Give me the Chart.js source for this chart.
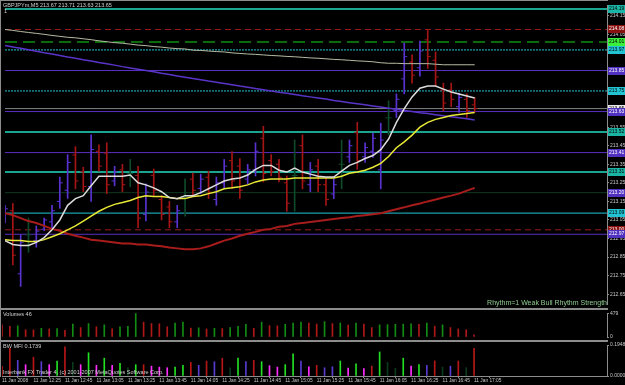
<!DOCTYPE html>
<html lang="en">
<head>
<meta charset="UTF-8"/>
<title>GBPJPYm,M5</title>
<script src="https://cdn.jsdelivr.net/npm/chart.js"></script>
<style>
  body { margin:0; background:#000; width:625px; height:385px; overflow:hidden; position:relative; font-family:"Liberation Sans", Arial, sans-serif; }
  canvas { position:absolute; left:0; }
  #main { top:0; }
  #vol { top:309px; }
  #mfi { top:341px; }
  .sep { position:absolute; background:#8c8c8c; }
  .txt { position:absolute; font-size:5.5px; line-height:6px; color:#d0d0d0; white-space:nowrap; }
</style>
</head>
<body>
  <canvas id="main" width="625" height="309"></canvas>
  <canvas id="vol" width="625" height="32"></canvas>
  <canvas id="mfi" width="625" height="44"></canvas>

  <!-- window frame / panel separators -->
  <div class="sep" style="left:0;top:0;width:608px;height:1px"></div>
  <div class="sep" style="left:0;top:0;width:1px;height:377px"></div>
  <div class="sep" style="left:0;top:308px;width:608px;height:2px"></div>
  <div class="sep" style="left:0;top:340px;width:608px;height:2px"></div>

  <div class="txt" id="header" style="left:3px;top:2px"></div>
  <div class="txt" style="left:4px;top:8px">1</div>
  <div class="txt" style="right:18px;top:299px;font-size:7px;line-height:8px;color:#8fca8f">Rhythm=1 Weak Bull Rhythm Strength</div>
  <div class="txt" id="volLabel" style="left:3px;top:311px"></div>
  <div class="txt" style="left:3px;top:343px">BW MFI 0.1739</div>
  <div class="txt" style="left:3px;top:369px">Interbank FX Trader 4, (c) 2001-2007 MetaQuotes Software Corp.</div>

<script>
// 5-minute bars, 11 Jan 2008
const times = ["12:05","12:10","12:15","12:20","12:25","12:30","12:35","12:40","12:45","12:50",
  "12:55","13:00","13:05","13:10","13:15","13:20","13:25","13:30","13:35","13:40",
  "13:45","13:50","13:55","14:00","14:05","14:10","14:15","14:20","14:25","14:30",
  "14:35","14:40","14:45","14:50","14:55","15:00","15:05","15:10","15:15","15:20",
  "15:25","15:30","15:35","15:40","15:45","15:50","15:55","16:00","16:05","16:10",
  "16:15","16:20","16:25","16:30","16:35","16:40","16:45","16:50","16:55","17:00","17:05"];

const barOpen = [213.05,213.10,212.76,212.97,212.94,213.00,213.04,213.15,213.21,213.40,
  213.31,213.23,213.42,213.41,213.26,213.32,213.30,213.29,213.08,213.29,
  213.16,213.12,213.04,213.17,213.27,213.22,213.28,213.16,213.25,213.37,
  213.34,213.27,213.32,213.49,213.37,213.35,213.25,213.29,213.45,213.24,
  213.34,213.24,213.19,213.35,213.39,213.52,213.39,213.42,213.32,213.60,
  213.64,213.81,213.90,213.87,214.02,213.91,213.75,213.75,213.66,213.70,213.67];
const barHigh = [213.129,213.139,212.971,213.060,213.018,213.060,213.129,213.281,213.402,213.445,
  213.334,213.508,213.455,213.466,213.339,213.350,213.376,213.339,213.245,213.324,
  213.181,213.150,213.129,213.271,213.302,213.297,213.313,213.281,213.376,213.418,
  213.381,213.350,213.466,213.555,213.402,213.376,213.287,213.481,213.508,213.360,
  213.376,213.271,213.271,213.481,213.481,213.576,213.466,213.518,213.571,213.692,
  213.729,214.002,213.939,214.013,214.071,213.955,213.787,213.787,213.734,213.729,213.71];
const barLow = [213.034,212.808,212.692,212.876,212.903,212.992,213.008,213.113,213.166,213.218,
  213.203,213.150,213.313,213.192,213.234,213.203,213.229,213.008,213.045,213.182,
  213.050,213.008,213.008,213.071,213.181,213.192,213.166,213.129,213.218,213.218,
  213.166,213.245,213.287,213.255,213.287,213.255,213.097,213.097,213.218,213.202,
  213.202,213.129,213.165,213.218,213.360,213.323,213.360,213.387,213.218,213.508,
  213.602,213.729,213.787,213.824,213.866,213.771,213.639,213.660,213.629,213.602,213.63];
const barClose = [213.11,212.86,212.93,212.97,212.99,213.05,213.10,213.25,213.36,213.26,
  213.23,213.43,213.34,213.24,213.31,213.24,213.30,213.06,213.20,213.21,
  213.08,213.04,213.10,213.17,213.21,213.27,213.20,213.25,213.34,213.26,
  213.21,213.32,213.42,213.30,213.31,213.28,213.14,213.29,213.26,213.32,
  213.24,213.16,213.24,213.35,213.45,213.37,213.44,213.49,213.48,213.60,
  213.70,213.93,213.83,213.96,213.93,213.82,213.68,213.70,213.71,213.64,213.65];

// moving averages
const maFast = [212.939,212.918,212.913,212.913,212.929,212.955,212.997,213.050,213.129,213.165,
  213.181,213.234,213.286,213.286,213.286,213.286,213.292,213.250,213.239,213.223,
  213.202,213.171,213.165,213.181,213.181,213.197,213.218,213.239,213.260,213.271,
  213.276,213.292,213.323,213.344,213.344,213.318,213.308,213.329,213.308,213.297,
  213.286,213.281,213.281,213.313,213.344,213.360,213.381,213.397,213.429,213.486,
  213.576,213.650,213.713,213.760,213.771,213.771,213.755,213.739,213.729,213.718,213.707];
const maSlow = [212.944,212.939,212.939,212.934,212.934,212.944,212.960,212.976,212.997,213.018,
  213.044,213.071,213.097,213.118,213.134,213.144,213.155,213.171,213.181,213.176,
  213.176,213.171,213.165,213.165,213.176,213.181,213.192,213.202,213.218,213.223,
  213.229,213.239,213.255,213.265,213.271,213.271,213.271,213.276,213.276,213.276,
  213.276,213.276,213.276,213.286,213.302,213.308,213.318,213.334,213.355,213.392,
  213.439,213.471,213.507,213.550,213.576,213.592,213.602,213.613,213.618,213.623,213.629];
const maRed = [213.086,213.076,213.060,213.044,213.034,213.018,213.002,212.992,212.976,212.965,
  212.955,212.944,212.939,212.934,212.929,212.923,212.923,212.918,212.918,212.913,
  212.908,212.902,212.897,212.892,212.892,212.897,212.908,212.923,212.939,212.950,
  212.965,212.976,212.986,212.997,213.002,213.013,213.018,213.029,213.034,213.039,
  213.044,213.050,213.055,213.060,213.065,213.071,213.076,213.081,213.086,213.097,
  213.108,213.118,213.129,213.139,213.150,213.160,213.171,213.181,213.192,213.208,213.223];
const maLong = [214.076,214.071,214.065,214.060,214.055,214.050,214.044,214.039,214.034,214.031,
  214.026,214.021,214.015,214.010,214.005,214.002,213.997,213.992,213.989,213.984,
  213.981,213.976,213.973,213.971,213.965,213.963,213.960,213.957,213.955,213.950,
  213.947,213.944,213.942,213.939,213.936,213.934,213.931,213.929,213.926,213.923,
  213.921,213.918,213.915,213.913,213.910,213.907,213.905,213.902,213.897,213.894,
  213.894,213.892,213.892,213.892,213.892,213.889,213.886,213.886,213.886,213.886,213.886];
const maPurple = [213.990,213.982,213.975,213.967,213.959,213.951,213.944,213.936,213.928,213.921,
  213.913,213.906,213.898,213.891,213.884,213.876,213.869,213.862,213.855,213.848,
  213.840,213.833,213.826,213.819,213.812,213.805,213.798,213.792,213.785,213.778,
  213.771,213.765,213.758,213.752,213.745,213.738,213.732,213.726,213.719,213.713,
  213.707,213.701,213.694,213.688,213.682,213.676,213.670,213.664,213.658,213.652,
  213.646,213.640,213.634,213.628,213.623,213.617,213.611,213.606,213.600,213.595,213.589];

// horizontal levels on the price chart
const levelPrices = [214.187, 214.076, 214.008, 213.966, 213.855, 213.745, 213.65, 213.634,
  213.524, 213.413, 213.308, 213.197, 213.087, 212.997, 212.973];

// volumes and BW MFI
const volumes = [248,220,228,149,145,176,165,170,138,264,
  193,275,209,248,165,209,220,479,303,275,
  270,209,286,303,182,188,165,178,172,193,
  220,259,176,303,231,228,259,286,303,286,
  264,314,275,286,242,286,264,193,248,253,
  259,264,268,259,286,220,248,193,165,149,46];
const mfiValues = [0.060,0.174,0.099,0.071,0.118,0.090,0.071,0.094,0.183,0.086,
  0.071,0.146,0.067,0.112,0.067,0.080,0.052,0.071,0.071,0.062,
  0.056,0.052,0.056,0.067,0.086,0.067,0.094,0.090,0.112,0.052,
  0.112,0.090,0.099,0.090,0.065,0.056,0.071,0.140,0.094,0.058,
  0.067,0.052,0.058,0.094,0.049,0.077,0.047,0.062,0.151,0.086,
  0.049,0.112,0.062,0.071,0.067,0.095,0.056,0.062,0.094,0.052,0.1739];
// G = green, F = fade, K = fake, S = squat, D = dim
const mfiZone = ["F","F","K","S","F","K","S","G","F","D",
  "S","G","S","G","S","G","D","G","F","S",
  "S","S","G","G","F","K","F","K","F","D",
  "G","K","F","G","S","S","G","G","K","S",
  "F","K","K","G","S","G","S","F","G","D",
  "D","G","S","G","K","F","D","K","F","D","F"];

const priceTicks = [214.15,214.05,213.95,213.85,213.75,213.65,213.55,213.45,
  213.35,213.25,213.15,213.05,212.95,212.85,212.75,212.65];
const volTicks = [0, 479];
const mfiTicks = [0, 0.1948];
const timeTickIdx = [0,4,8,12,16,20,24,28,32,36,40,44,48,52,56,60];

// ---- styles ----
const X_MAX = 76.9;
const AXIS_FONT = { family: "Liberation Sans", size: 5 };
const levelStyles = [
  { line:'#1aa590', w:2, dash:[], tag:'#1ab5a5', tagText:'#000' },
  { line:'#9a1a1a', w:1, dash:[6,4], tag:'#8b1010', tagText:'#fff' },
  { line:'#0b6a0b', w:2, dash:[12,6], tag:'#3af03a', tagText:'#000' },
  { line:'#22c4d4', w:1, dash:[2,1], tag:'#22c4d4', tagText:'#000' },
  { line:'#5a2fc0', w:1, dash:[], tag:'#5030c0', tagText:'#fff' },
  { line:'#22c4d4', w:1, dash:[2,1], tag:'#22c4d4', tagText:'#000' },
  { line:'#808080', w:1, dash:[], tag:'#e8e8e8', tagText:'#000' },
  { line:'#5a2fc0', w:1, dash:[], tag:'#5030c0', tagText:'#fff' },
  { line:'#1aa590', w:2, dash:[], tag:'#1ab5a5', tagText:'#000' },
  { line:'#5a2fc0', w:1, dash:[], tag:'#5030c0', tagText:'#fff' },
  { line:'#1aa590', w:2, dash:[], tag:'#1ab5a5', tagText:'#000' },
  { line:'#103a22', w:1, dash:[], tag:'#5030c0', tagText:'#fff' },
  { line:'#22c4d4', w:1, dash:[], tag:'#22c4d4', tagText:'#000' },
  { line:'#9a1a1a', w:1, dash:[6,4], tag:'#8b1010', tagText:'#fff' },
  { line:'#5a2fc0', w:1, dash:[], tag:'#5030c0', tagText:'#fff' }
];
const mfiColors = { G:'#22e022', F:'#b81616', K:'#5a3ad0', S:'#ff2cff', D:'#0c3a1c' };

function barColor(i) {
  if (barClose[i] > barOpen[i]) return '#5a32d0';
  if (barClose[i] < barOpen[i]) return '#a51515';
  return '#0e4a2a';
}
function xy(arr) { return arr.map((v, i) => ({ x: i, y: v })); }
function fixWidth(s) { s.width = 18; }

const header = document.getElementById('header');
const n = barClose.length - 1;
header.textContent = 'GBPJPYm,M5  ' + [barOpen[n], barHigh[n], barLow[n], barClose[n]].map(v => v.toFixed(2)).join(' ');
document.getElementById('volLabel').textContent = 'Volumes ' + volumes[n];

const xHidden = { type:'linear', min:0, max:X_MAX, offset:false, display:false };

function rightAxis(min, max, tickVals, digits) {
  return {
    position:'right', min:min, max:max,
    afterFit: fixWidth,
    afterBuildTicks: s => { s.ticks = tickVals.map(v => ({ value: v })); },
    grid: { drawOnChartArea:false, drawTicks:true, tickLength:2, color:'#8c8c8c' },
    border: { display:true, color:'#8c8c8c', width:1 },
    ticks: { color:'#c8c8c8', font:AXIS_FONT, padding:1, autoSkip:false,
             callback: v => digits ? v.toFixed(digits) : String(v) }
  };
}

// price level tags on the right axis
const levelTags = {
  id: 'levelTags',
  afterDraw(chart) {
    const { ctx, chartArea, scales } = chart;
    ctx.save();
    ctx.font = '5px "Liberation Sans"';
    ctx.textBaseline = 'middle';
    levelPrices.forEach((p, i) => {
      const st = levelStyles[i];
      const py = Math.round(scales.y.getPixelForValue(p));
      ctx.fillStyle = st.tag;
      ctx.fillRect(chartArea.right + 1, py - 4, 17, 8);
      ctx.fillStyle = st.tagText;
      ctx.fillText(p.toFixed(2), chartArea.right + 2, py);
    });
    ctx.restore();
  }
};

Chart.defaults.animation = false;
Chart.defaults.responsive = false;
Chart.defaults.devicePixelRatio = 1;
Chart.defaults.events = [];
Chart.defaults.plugins.legend.display = false;
Chart.defaults.plugins.tooltip.enabled = false;

const lineDs = (data, color, w) => ({
  type:'line', data: xy(data), borderColor: color, borderWidth: w,
  pointRadius: 0, tension: 0, fill: false
});

const levelSets = levelPrices.map((p, i) => ({
  type:'line', data:[{ x:0, y:p }, { x:X_MAX, y:p }],
  borderColor: levelStyles[i].line, borderWidth: levelStyles[i].w,
  borderDash: levelStyles[i].dash, pointRadius:0
}));

new Chart(document.getElementById('main'), {
  type: 'line',
  data: {
    datasets: [
      lineDs(maFast, '#dcdcdc', 1.5),
      lineDs(maSlow, '#e8e838', 1.5),
      lineDs(maRed, '#a81c1c', 2),
      lineDs(maLong, '#b6bca4', 1),
      lineDs(maPurple, '#5a34c8', 1.5),
      { type:'line', showLine:false, data: xy(barOpen), pointStyle:'dash', pointRotation:180,
        pointRadius:3, pointBorderWidth:1, pointBorderColor: c => barColor(c.dataIndex) },
      { type:'line', showLine:false, data: xy(barClose), pointStyle:'dash', pointRotation:0,
        pointRadius:3, pointBorderWidth:1, pointBorderColor: c => barColor(c.dataIndex) },
      { type:'bar', data: barHigh.map((h, i) => ({ x:i, y:[barLow[i], h] })),
        backgroundColor: c => barColor(c.dataIndex), barThickness:1, grouped:false },
      ...levelSets
    ]
  },
  options: {
    layout: { padding: { left:2, top:2, bottom:1, right:0 } },
    scales: {
      x: xHidden,
      y: rightAxis(212.5974, 214.2079, priceTicks, 2)
    }
  },
  plugins: [levelTags]
});

new Chart(document.getElementById('vol'), {
  type: 'bar',
  data: {
    datasets: [{
      data: xy(volumes),
      backgroundColor: c => (c.dataIndex > 0 && volumes[c.dataIndex] > volumes[c.dataIndex - 1]) ? '#138c13' : '#b01818',
      barThickness: 1, grouped:false
    }]
  },
  options: {
    layout: { padding: { left:2, top:2, bottom:1, right:0 } },
    scales: {
      x: xHidden,
      y: rightAxis(0, 490, volTicks, 0)
    }
  }
});

new Chart(document.getElementById('mfi'), {
  type: 'bar',
  data: {
    datasets: [{
      data: xy(mfiValues),
      backgroundColor: c => mfiColors[mfiZone[c.dataIndex]],
      barThickness: 1, grouped:false
    }]
  },
  options: {
    layout: { padding: { left:2, top:2, bottom:0, right:0 } },
    scales: {
      x: {
        type:'linear', min:0, max:X_MAX, offset:false, position:'bottom',
        afterFit: s => { s.height = 9; },
        afterBuildTicks: s => { s.ticks = timeTickIdx.map(v => ({ value: v })); },
        grid: { drawOnChartArea:false, drawTicks:true, tickLength:2, color:'#8c8c8c' },
        border: { display:true, color:'#8c8c8c', width:1 },
        ticks: { color:'#c8c8c8', font:{ family:"Liberation Sans", size:4.8 }, padding:0,
                 align:'start', autoSkip:false, maxRotation:0, minRotation:0,
                 callback: v => v === 0 ? '11 Jan 2008' : '11 Jan ' + times[v] }
      },
      y: rightAxis(0, 0.1948, mfiTicks, 4)
    }
  }
});
</script>
</body>
</html>
